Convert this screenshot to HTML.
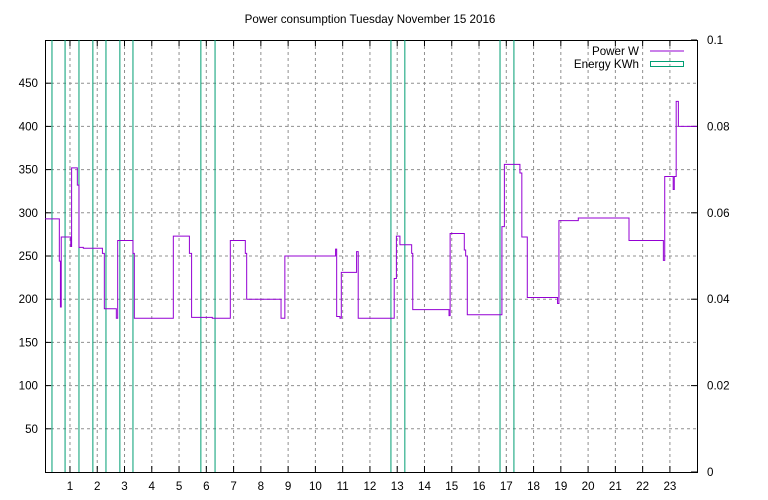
<!DOCTYPE html>
<html><head><meta charset="utf-8"><style>
body{margin:0;background:#fff}
svg{display:block;font-family:"Liberation Sans",sans-serif;font-size:11.6px}
</style></head><body>
<svg id="c" width="768" height="500"></svg>
<script>
const hourTicks=[1,2,3,4,5,6,7,8,9,10,11,12,13,14,15,16,17,18,19,20,21,22,23];
const powerTicks=[50,100,150,200,250,300,350,400,450];
const energyTicks=[0,0.02,0.04,0.06,0.08,0.1];
const energyTickLabels=["0","0.02","0.04","0.06","0.08","0.1"];
const energyHours=[0.34,0.82,1.33,1.84,2.32,2.83,3.31,5.80,6.32,12.77,13.28,16.77,17.28];
const stepHours=[0.09,0.61,0.65,0.68,1.03,1.06,1.27,1.33,1.49,2.19,2.26,2.70,2.75,3.31,3.36,4.79,5.38,5.46,6.22,6.88,7.43,7.48,8.74,8.88,10.74,10.78,10.90,10.95,11.51,11.57,12.89,12.97,13.10,13.53,13.57,14.90,14.94,15.46,15.51,15.57,16.84,16.93,17.50,17.57,17.77,18.88,18.93,19.64,21.50,22.76,22.81,23.12,23.16,23.23,23.31];
const stepValues=[293,244,191,272,261,352,332,260,259,253,189,178,268,253,178,273,253,179,178,268,253,200,178,250,258,180,178,231,255,178,224,273,263,253,188,181,276,257,250,182,284,356,346,272,202,195,291,294,268,245,342,327,342,429,400];
const svg=document.getElementById('c');
const NS='http://www.w3.org/2000/svg';
const L=45,R=697,T=40,B=472;
const X=h=>42.7+h*27.27;
const Y=v=>B-v*0.864;
const YE=e=>B-e*(B-T)/0.1;
function mk(t,a,p){const e=document.createElementNS(NS,t);for(const k in a)e.setAttribute(k,a[k]);(p||svg).appendChild(e);return e;}
let t=mk('text',{x:370,y:23,'text-anchor':'middle'});


t.textContent='Power consumption Tuesday November 15 2016';
const grid=mk('g',{stroke:'#909090','stroke-dasharray':'3,3','stroke-width':1});


hourTicks.forEach(h=>{mk('line',{x1:X(h),x2:X(h),y1:T,y2:B},grid);});
powerTicks.forEach(v=>{mk('line',{x1:L,x2:R,y1:Y(v),y2:Y(v)},grid);});
const ax=mk('g',{stroke:'#000','stroke-width':1});


mk('rect',{x:L+.5,y:T+.5,width:R-L,height:B-T,fill:'none'},ax);
hourTicks.forEach(h=>{const x=X(h);mk('line',{x1:x,x2:x,y1:B,y2:B-6},ax);mk('line',{x1:x,x2:x,y1:T,y2:T+6},ax);
 const s=mk('text',{x:x,y:490,'text-anchor':'middle',stroke:'none'});
 
 
 s.textContent=h;});
powerTicks.forEach(v=>{const y=Y(v);mk('line',{x1:L,x2:L+6,y1:y,y2:y},ax);
 const s=mk('text',{x:38,y:y+4,'text-anchor':'end',stroke:'none'});
 
 
 s.textContent=v;});
energyTicks.forEach((e,i)=>{const y=YE(e);mk('line',{x1:R-6,x2:R,y1:y,y2:y},ax);
 const s=mk('text',{x:707,y:y+4,stroke:'none'});
 
 
 s.textContent=energyTickLabels[i];});
const eg=mk('g',{stroke:'#009e73','stroke-width':1});


energyHours.forEach(h=>{const l=mk('line',{x1:X(h),x2:X(h),y1:T,y2:B},eg);
 
 });
let d='';
stepHours.forEach((h,i)=>{const x=X(h),y=Y(stepValues[i]);d+=(i?'L'+x+' '+Y(stepValues[i-1])+'L':'M')+x+' '+y;});
d+='L'+R+' '+Y(stepValues[stepValues.length-1]);
const p=mk('path',{d:d,fill:'none',stroke:'#9400d3','stroke-width':1});


const lg=mk('g',{});


let a=mk('text',{x:639,y:55,'text-anchor':'end'},lg);a.textContent='Power W';
mk('line',{x1:650,x2:684,y1:51,y2:51,stroke:'#9400d3','stroke-width':1},lg);
a=mk('text',{x:639,y:68,'text-anchor':'end'},lg);a.textContent='Energy KWh';
mk('rect',{x:650.5,y:61.5,width:33,height:5,fill:'none',stroke:'#009e73'},lg);
</script>
</body></html>
